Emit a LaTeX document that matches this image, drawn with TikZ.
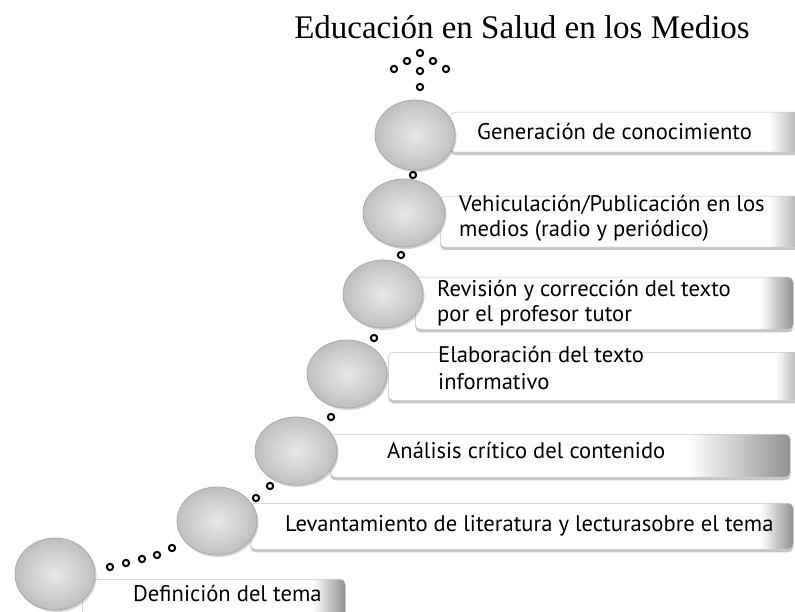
\documentclass[tikz,border=0pt]{standalone}
\usepackage{fontspec}
\setmainfont{Liberation Serif}
\newfontfamily\boxfont{PT Sans}
\usetikzlibrary{shapes.geometric,shadows}
\tikzset{
  disc/.style={ellipse, inner sep=0pt, inner color=gray!18, outer color=gray!50,
    draw=gray!70, line width=0.7pt,
    drop shadow={shadow xshift=1.5pt, shadow yshift=-2pt, opacity=0.35}},
  panel/.style={rectangle, rounded corners=5pt, fill=white, draw=gray!45,
    line width=0.5pt, inner sep=0pt, anchor=north west,
    drop shadow={shadow xshift=0pt, shadow yshift=-3pt, opacity=0.45},
    path picture={\foreach \k in {1,...,30}{%
      \pgfmathsetmacro\pc{\k*1.4}%
      \fill[black!\pc, sharp corners]
        ([xshift={-#1*(31-\k)/30}]path picture bounding box.north east) rectangle
        ([xshift={-#1*(30-\k)/30+0.6}]path picture bounding box.south east);}}},
  panel/.default=32,
  dotc/.style={circle, draw=black, line width=2pt, fill=white,
    minimum size=6.3pt, inner sep=0pt},
  lbl/.style={font=\boxfont\fontsize{22.6}{25}\selectfont, anchor=base west,
    inner sep=0pt},
  ttl/.style={font=\fontsize{33}{40}\selectfont, anchor=base, inner sep=0pt}
}
\newcommand{\twolines}[2]{\begin{tabular}[t]{@{}l@{}}#1\\#2\end{tabular}}
\begin{document}
\begin{tikzpicture}[x=1pt,y=-1pt]
\useasboundingbox (0,0) rectangle (795,612);
% panels
\node[panel, minimum width=263pt, minimum height=46pt] (b1) at (82,579) {};
\node[panel, minimum width=543pt, minimum height=46pt] (b2) at (250,503) {};
\node[panel=100, minimum width=460pt, minimum height=43pt] (b3) at (330,434) {};
\node[panel, minimum width=420pt, minimum height=48pt] (b4) at (388,352) {};
\node[panel, minimum width=378pt, minimum height=52pt] (b5) at (415,277) {};
\node[panel=40, minimum width=370pt, minimum height=51pt] (b6) at (440,196) {};
\node[panel=40, minimum width=360pt, minimum height=40pt] (b7) at (450,112) {};
% discs
\node[disc, minimum width=80pt, minimum height=72pt] (c1) at (55,574) {};
\node[disc, minimum width=80pt, minimum height=68pt] (c2) at (217,521) {};
\node[disc, minimum width=82pt, minimum height=68pt] (c3) at (296,451) {};
\node[disc, minimum width=80pt, minimum height=68pt] (c4) at (347,374) {};
\node[disc, minimum width=80pt, minimum height=68pt] (c5) at (383,294) {};
\node[disc, minimum width=82pt, minimum height=68pt] (c6) at (404,213) {};
\node[disc, minimum width=80pt, minimum height=70pt] (c7) at (415,135) {};
% dotted links
\node[dotc] (d1) at (110,567) {};
\node[dotc] (d2) at (126,563) {};
\node[dotc] (d3) at (142,559) {};
\node[dotc] (d4) at (157,555) {};
\node[dotc] (d5) at (172,548) {};
\node[dotc] (d6) at (256,498) {};
\node[dotc] (d7) at (270,486) {};
\node[dotc] (d8) at (331,417) {};
\node[dotc] (d9) at (374,338) {};
\node[dotc] (d10) at (401,255) {};
\node[dotc] (d11) at (413,175) {};
% arrow of dots
\node[dotc] (a1) at (420,87) {};
\node[dotc] (a2) at (420,71) {};
\node[dotc] (a3) at (394,69) {};
\node[dotc] (a4) at (407,61) {};
\node[dotc] (a5) at (420,53) {};
\node[dotc] (a6) at (433,61) {};
\node[dotc] (a7) at (446,69) {};
% labels
\node[lbl] (t1) at (133,601) {Definición del tema};
\node[lbl] (t2) at (285,531) {Levantamiento de literatura y lecturasobre el tema};
\node[lbl] (t3) at (387,458) {Análisis crítico del contenido};
\node[lbl] (t4) at (438,362) {\fontsize{22.6}{27}\selectfont\twolines{Elaboración del texto}{informativo}};
\node[lbl] (t5) at (437,297) {\twolines{Revisión y corrección del texto}{por el profesor tutor}};
\node[lbl] (t6) at (459,212) {\twolines{Vehiculación/Publicación en los}{medios (radio y periódico)}};
\node[lbl] (t7) at (477,140) {Generación de conocimiento};
% title
\node[ttl] (title) at (522,39) {Educación en Salud en los Medios};
\end{tikzpicture}
\end{document}
